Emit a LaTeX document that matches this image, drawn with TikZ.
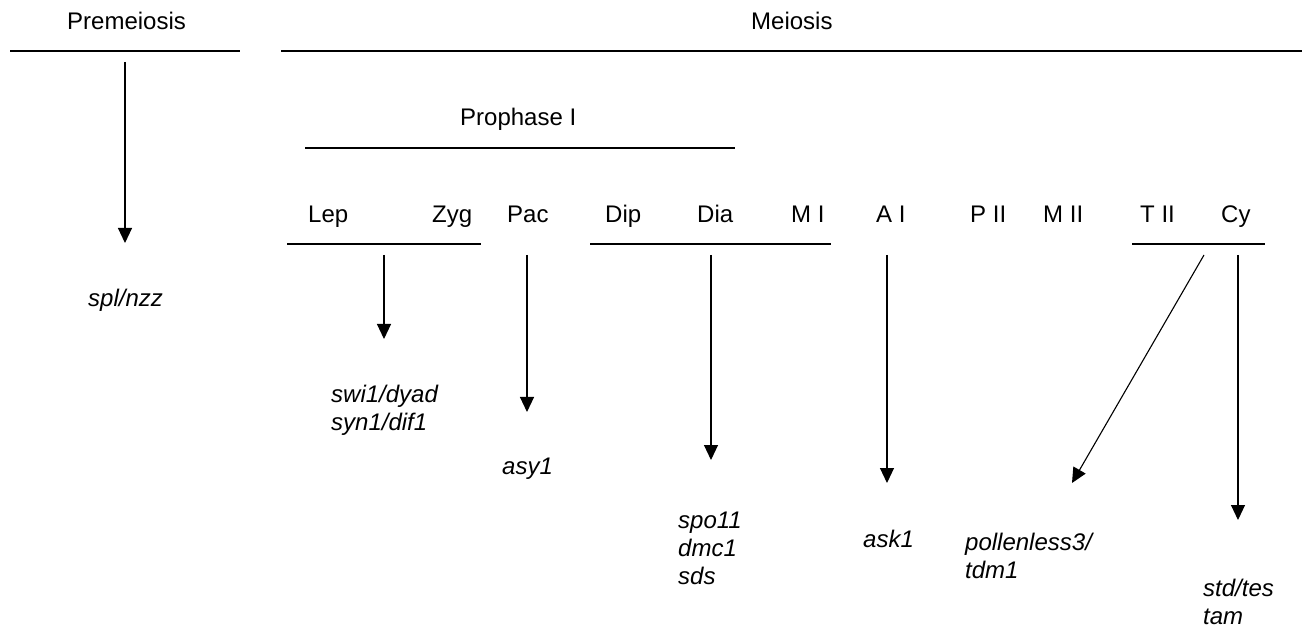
\documentclass[tikz,border=0pt]{standalone}
\usepackage{fontspec}
\setmainfont{Liberation Sans}
\usetikzlibrary{arrows.meta}

\begin{document}
\begin{tikzpicture}[x=1pt,y=-1pt,
    every node/.style={inner sep=0pt,anchor=base west,font=\fontsize{24}{28}\selectfont},
    gene/.style={align=left,font=\fontsize{24}{28}\selectfont\itshape},
    rule/.style={line width=1.3pt},
    arr/.style={line width=1.1pt,-{Triangle[width=14pt,length=15pt]}}]
  \useasboundingbox (0,0) rectangle (1302,628);
  % headings
  \node (pre) at (67,30) {Premeiosis};
  \node (mei) at (751,30) {Meiosis};
  \node (pro) at (460,126) {Prophase I};
  \draw[rule] (10,51) -- (240,51);
  \draw[rule] (281,51) -- (1302,51);
  \draw[rule] (305,148) -- (735,148);
  % stages
  \foreach \n/\t/\x in {lep/Lep/308, zyg/Zyg/432, pac/Pac/507, dip/Dip/605, dia/Dia/697,
      mi/M I/791, ai/A I/876, pii/P II/970, mii/M II/1043, tii/T II/1140, cy/Cy/1221}
    \node (\n) at (\x,223) {\t};
  \draw[rule] (287,244) -- (481,244);
  \draw[rule] (590,244) -- (831,244);
  \draw[rule] (1132,244) -- (1265,244);
  % genes (base = last line)
  \node[gene] (spl) at (88,307) {spl/nzz};
  \node[gene] (swi) at (331,430) {swi1/dyad\\syn1/dif1};
  \node[gene] (asy) at (502,474) {asy1};
  \node[gene] (spo) at (678,584) {spo11\\dmc1\\sds};
  \node[gene] (ask) at (863,547) {ask1};
  \node[gene] (pol) at (965,578) {pollenless3/\\tdm1};
  \node[gene] (std) at (1203,624) {std/tes\\tam};
  % arrows
  \foreach \n/\x/\ya/\yb in {a1/125/62/243, a2/384/255/339, a3/527/255/412,
      a4/711/255/460, a5/887/255/483, a6/1238/255/520} {
    \coordinate (\n s) at (\x,\ya);
    \coordinate (\n e) at (\x,\yb);
    \draw[arr] (\n s) -- (\n e);
  }
  \coordinate (d1) at (1204,255);
  \coordinate (d2) at (1072,483);
  \draw[arr] (d1) -- (d2);
\end{tikzpicture}
\end{document}
